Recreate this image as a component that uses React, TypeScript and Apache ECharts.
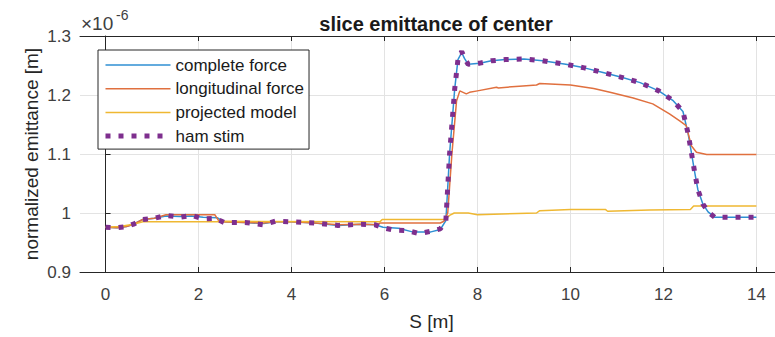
import React, { useEffect, useRef } from "react";
import * as echarts from "echarts";

// S positions [m] and emittance values (units of 1e-6 m)
const hamS = [0, 0.25, 0.45, 0.6, 0.8, 1.05, 1.3, 1.6, 1.85, 2.1, 2.35, 2.55, 3.0, 3.39, 3.65, 4.0, 4.5, 5.0, 5.5, 5.8, 5.97, 6.2, 6.5, 6.75, 7.0, 7.2, 7.32, 7.4, 7.51, 7.58, 7.66, 7.72, 7.8, 8.05, 8.3, 8.6, 9.0, 9.4, 9.9, 10.3, 10.7, 11.1, 11.5, 11.9, 12.2, 12.42, 12.53, 12.6, 12.67, 12.74, 12.85, 12.96, 13.1, 14.0];
const hamV = [0.976, 0.975, 0.977, 0.981, 0.989, 0.991, 0.996, 0.993, 0.996, 0.99, 0.991, 0.984, 0.984, 0.98, 0.986, 0.985, 0.983, 0.979, 0.981, 0.98, 0.975, 0.971, 0.97, 0.965, 0.969, 0.973, 0.987, 1.1, 1.21, 1.26, 1.274, 1.262, 1.252, 1.254, 1.258, 1.26, 1.261, 1.258, 1.252, 1.246, 1.238, 1.23, 1.221, 1.207, 1.191, 1.172, 1.135, 1.103, 1.07, 1.04, 1.015, 1.002, 0.993, 0.993];

const completeS = [0, 0.25, 0.45, 0.6, 0.8, 1.05, 1.3, 1.6, 1.85, 2.1, 2.4, 2.55, 3.0, 3.4, 3.65, 4.0, 4.5, 5.0, 5.5, 5.8, 5.97, 6.3, 6.6, 7.0, 7.2, 7.32, 7.4, 7.51, 7.58, 7.66, 7.72, 7.8, 8.05, 8.3, 8.6, 9.0, 9.4, 9.9, 10.3, 10.7, 11.1, 11.5, 11.9, 12.2, 12.42, 12.53, 12.6, 12.67, 12.74, 12.85, 12.96, 13.1, 14.0];
const completeV = [0.976, 0.975, 0.977, 0.981, 0.989, 0.991, 0.995, 0.994, 0.995, 0.993, 0.992, 0.985, 0.984, 0.982, 0.985, 0.985, 0.983, 0.979, 0.981, 0.98, 0.976, 0.974, 0.968, 0.968, 0.972, 0.987, 1.1, 1.21, 1.26, 1.272, 1.262, 1.252, 1.254, 1.258, 1.26, 1.261, 1.258, 1.252, 1.246, 1.238, 1.23, 1.221, 1.207, 1.191, 1.172, 1.135, 1.103, 1.07, 1.04, 1.015, 1.002, 0.993, 0.993];

const longS = [0, 0.25, 0.45, 0.6, 0.8, 1.05, 1.3, 2.35, 2.45, 3.0, 3.4, 3.65, 4.0, 4.5, 5.0, 5.5, 5.86, 5.9, 7.2, 7.28, 7.36, 7.45, 7.55, 7.62, 7.76, 7.83, 8.0, 8.41, 8.45, 8.9, 9.27, 9.34, 10.0, 10.5, 10.85, 11.35, 11.77, 12.13, 12.35, 12.49, 12.6, 12.71, 12.93, 14.0];
const longV = [0.976, 0.975, 0.977, 0.981, 0.989, 0.991, 0.997, 0.997, 0.985, 0.984, 0.983, 0.985, 0.985, 0.983, 0.98, 0.981, 0.98, 0.983, 0.983, 0.986, 1.0, 1.1, 1.19, 1.207, 1.202, 1.2045, 1.207, 1.213, 1.212, 1.215, 1.217, 1.2195, 1.217, 1.211, 1.2045, 1.195, 1.185, 1.168, 1.156, 1.148, 1.114, 1.103, 1.099, 1.099];

const projS = [0, 0.3, 0.6, 0.8, 2.4, 2.5, 5.9, 5.95, 7.3, 7.4, 7.5, 7.8, 8.0, 9.27, 9.34, 10.0, 10.75, 10.8, 11.7, 12.58, 12.65, 14.0];
const projV = [0.976, 0.977, 0.981, 0.985, 0.985, 0.986, 0.985, 0.989, 0.989, 0.996, 1.0, 1.0, 0.997, 1.0, 1.004, 1.006, 1.006, 1.003, 1.005, 1.006, 1.012, 1.012];

const xTicks = [0, 2, 4, 6, 8, 10, 12, 14];
const seriesNames = ["complete force", "longitudinal force", "projected model", "ham stim"];
const yAxisTitle = "normalized emittance [m]";

const FONT = "'Liberation Sans', Arial, Helvetica, sans-serif";

function zip(s: number[], v: number[]) {
  return s.map((x, i) => [x, v[i]]);
}

export default function App() {
  const ref = useRef<HTMLDivElement>(null);
  useEffect(() => {
    if (!ref.current) return;
    const chart = echarts.init(ref.current, undefined, { renderer: "svg" });
    const axisColor = "#262626";
    const gridColor = "#e3e3e3";
    const xCommon = {
      type: "value" as const,
      min: -0.55,
      max: 14.4,
      axisLine: { show: true, onZero: false, lineStyle: { color: axisColor, width: 1 } },
      axisTick: { show: true, inside: true, length: 5, customValues: xTicks, lineStyle: { color: axisColor } },
    };
    const hiddenSymbol = { color: "rgba(0,0,0,0)", borderWidth: 0, opacity: 0 };
    chart.setOption({
      animation: false,
      backgroundColor: "#ffffff",
      title: {
        text: "slice emittance of center",
        left: 431,
        textAlign: "center",
        top: 9,
        textStyle: { fontFamily: FONT, fontSize: 20, fontWeight: "bold", color: "#1a1a1a" },
      },
      grid: { left: 80, right: 0, top: 36, bottom: 65, containLabel: false },
      legend: {
        orient: "vertical",
        left: 98,
        top: 50,
        padding: [5, 5, 3, 5],
        itemGap: 3.7,
        itemWidth: 65,
        itemHeight: 12,
        backgroundColor: "#ffffff",
        borderColor: axisColor,
        borderWidth: 1,
        borderRadius: 0,
        itemStyle: hiddenSymbol,
        textStyle: { fontFamily: FONT, fontSize: 17, color: "#1a1a1a", lineHeight: 20 },
        data: [
          { name: seriesNames[0], lineStyle: { width: 1.5 }, itemStyle: hiddenSymbol },
          { name: seriesNames[1], lineStyle: { width: 1.5 }, itemStyle: hiddenSymbol },
          { name: seriesNames[2], lineStyle: { width: 1.5 }, itemStyle: hiddenSymbol },
          { name: seriesNames[3], lineStyle: { width: 5 }, itemStyle: hiddenSymbol },
        ],
      },
      xAxis: [
        {
          ...xCommon,
          position: "bottom",
          name: "S [m]",
          nameLocation: "middle",
          nameGap: 40,
          nameTextStyle: { fontFamily: FONT, fontSize: 19, color: "#262626", padding: [0, 0, 0, 8] },
          axisLabel: {
            show: true,
            customValues: xTicks,
            margin: 14,
            fontFamily: FONT,
            fontSize: 17,
            color: "#404040",
          },
          splitLine: { show: true, lineStyle: { color: gridColor, width: 1 } },
        },
        {
          ...xCommon,
          position: "top",
          axisLabel: { show: false },
          splitLine: { show: false },
        },
      ],
      yAxis: {
        type: "value",
        min: 0.9,
        max: 1.3,
        interval: 0.1,
        axisLine: { show: true, lineStyle: { color: axisColor, width: 1 } },
        axisTick: { show: true, inside: true, length: 5, lineStyle: { color: axisColor } },
        axisLabel: {
          margin: 9,
          fontFamily: FONT,
          fontSize: 17,
          color: "#404040",
          formatter: (v: number) => String(Math.round(v * 10) / 10),
        },
        splitLine: { show: true, lineStyle: { color: gridColor, width: 1 } },
      },
      graphic: [
        {
          type: "text",
          x: 31,
          y: 154,
          rotation: Math.PI / 2,
          style: {
            text: yAxisTitle,
            fontFamily: FONT,
            fontSize: 19,
            fill: "#262626",
            align: "center",
            verticalAlign: "middle",
          },
        },
        {
          type: "text",
          left: 81,
          top: 14,
          style: { text: "×10", fontFamily: FONT, fontSize: 19, fill: "#404040" },
        },
        {
          type: "text",
          left: 116,
          top: 8,
          style: { text: "-6", fontFamily: FONT, fontSize: 14, fill: "#404040" },
        },
      ],
      series: [
        {
          name: seriesNames[0],
          type: "line",
          data: zip(completeS, completeV),
          showSymbol: false,
          symbol: "none",
          lineStyle: { color: "#2f8fd3", width: 1.5 },
          itemStyle: { color: "#2f8fd3" },
          z: 2,
        },
        {
          name: seriesNames[1],
          type: "line",
          data: zip(longS, longV),
          showSymbol: false,
          symbol: "none",
          lineStyle: { color: "#e0703f", width: 1.5 },
          itemStyle: { color: "#e0703f" },
          z: 3,
        },
        {
          name: seriesNames[2],
          type: "line",
          data: zip(projS, projV),
          showSymbol: false,
          symbol: "none",
          lineStyle: { color: "#efb832", width: 1.5 },
          itemStyle: { color: "#efb832" },
          z: 4,
        },
        {
          name: seriesNames[3],
          type: "line",
          data: zip(hamS, hamV),
          showSymbol: false,
          symbol: "none",
          lineStyle: { color: "#7e2f8e", width: 5, type: [5, 8], cap: "butt" },
          itemStyle: { color: "#7e2f8e" },
          z: 5,
        },
      ],
    });
    return () => chart.dispose();
  }, []);
  return (
    <div
      ref={ref}
      style={{ position: "fixed", left: 0, top: 0, width: 775, height: 337, background: "#fff" }}
    />
  );
}
